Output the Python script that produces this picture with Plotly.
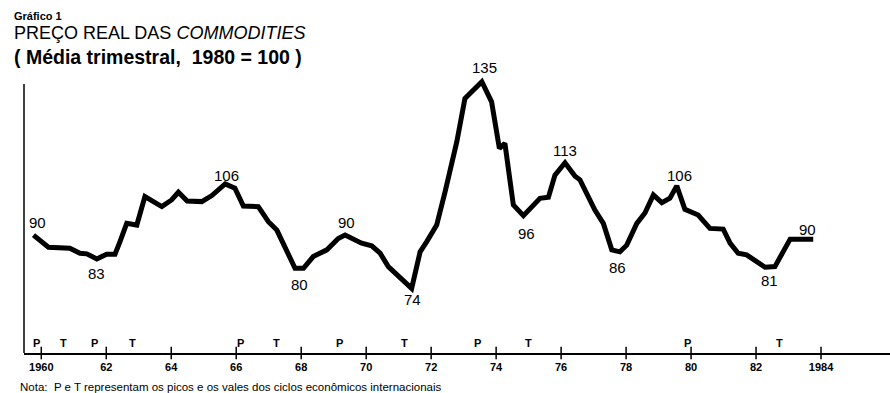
import plotly.graph_objects as go

# ---- data ----
years = [1959.76, 1959.96, 1960.22, 1960.88, 1961.19, 1961.40, 1961.71, 1962.01, 1962.27, 1962.42,
         1962.63, 1962.94, 1963.19, 1963.71, 1964.01, 1964.22, 1964.49, 1964.94, 1965.25, 1965.66,
         1965.96, 1966.22, 1966.68, 1966.99, 1967.25, 1967.81, 1968.07, 1968.37, 1968.79, 1969.14,
         1969.35, 1969.86, 1970.17, 1970.43, 1970.68, 1971.40, 1971.66, 1971.86, 1972.17, 1972.43,
         1972.79, 1973.04, 1973.56, 1973.86, 1974.10, 1974.27, 1974.53, 1974.84, 1975.35, 1975.61,
         1975.81, 1976.12, 1976.43, 1976.58, 1977.04, 1977.30, 1977.56, 1977.81, 1978.02, 1978.33,
         1978.58, 1978.84, 1979.10, 1979.35, 1979.56, 1979.81, 1980.22, 1980.58, 1980.99, 1981.20,
         1981.45, 1981.71, 1982.28, 1982.58, 1983.05, 1983.76]
prices = [90.4, 88.9, 86.8, 86.5, 85.0, 84.8, 83.3, 84.7, 84.7, 88.4,
          93.9, 93.4, 101.9, 98.9, 100.9, 103.2, 100.6, 100.4, 102.2, 105.7,
          104.4, 99.1, 98.9, 94.4, 91.9, 80.5, 80.5, 84.0, 86.0, 89.4,
          90.4, 88.0, 87.2, 85.0, 81.0, 74.5, 85.4, 88.4, 93.4, 103.4,
          118.3, 131.2, 136.2, 130.2, 116.3, 117.8, 99.4, 96.2, 101.4, 101.7,
          108.3, 112.0, 108.0, 106.9, 97.9, 93.9, 86.0, 85.4, 87.4, 93.9,
          97.0, 102.4, 100.1, 101.4, 105.1, 98.1, 96.4, 92.4, 92.2, 88.0,
          85.0, 84.5, 80.8, 81.0, 89.2, 89.2]

# labelled peaks/troughs: index into series and printed value
label_index = [0, 6, 19, 25, 30, 35, 42, 47, 51, 57, 64, 73, 75]
label_text = ["90", "83", "106", "80", "90", "74", "135", "96", "113", "86", "106", "81", "90"]

# business-cycle peaks (P) and troughs (T)
cycle_years = [1959.84, 1960.67, 1961.65, 1962.82, 1966.12, 1967.23, 1969.19, 1971.19,
               1973.44, 1975.01, 1979.90, 1982.73]
cycle_marks = ["P", "T", "P", "T", "P", "T", "P", "T", "P", "T", "P", "T"]

tick_years = [1960, 1962, 1964, 1966, 1968, 1970, 1972, 1974, 1976, 1978, 1980, 1982, 1984]
tick_text = ["1960", "62", "64", "66", "68", "70", "72", "74", "76", "78", "80", "82", "1984"]

# ---- styling ----
FONT = "Liberation Sans"
X_RANGE = [1959.468, 1986.123]
Y_RANGE = [55.2, 139.7]
Y_AXIS_TOP = 135.5
label_shift = [(4, -13), (0, 15), (1, -8), (4, 16), (1, -13), (1, 11), (3, -14),
               (3, 18), (0, -12), (-2, 16), (3, -10), (-5, 14), (-6, -10)]

fig = go.Figure()

fig.add_trace(go.Scatter(
    x=years, y=prices, mode="lines",
    line=dict(color="black", width=5),
    hoverinfo="skip", showlegend=False,
))

# cross-shaped ticks on the time axis
fig.add_trace(go.Scatter(
    x=tick_years, y=[Y_RANGE[0]] * len(tick_years), mode="markers",
    marker=dict(symbol="line-ns", size=9, line=dict(color="black", width=1.5)),
    cliponaxis=False, hoverinfo="skip", showlegend=False,
))

annotations = []
for idx, txt, (dx, dy) in zip(label_index, label_text, label_shift):
    annotations.append(dict(
        x=years[idx], y=prices[idx], xref="x", yref="y", text=txt,
        showarrow=False, xanchor="center", yanchor="middle",
        xshift=dx, yshift=-dy,
        font=dict(family=FONT, size=15, color="black"),
    ))

for yr, m in zip(cycle_years, cycle_marks):
    annotations.append(dict(
        x=yr, y=0.034, xref="x", yref="paper", text="<b>%s</b>" % m,
        showarrow=False, xanchor="center", yanchor="middle",
        font=dict(family=FONT, size=11, color="black"),
    ))

annotations += [
    dict(x=-0.0139, y=1.1908, xref="paper", yref="paper", text="<b>Gráfico 1</b>",
         showarrow=False, xanchor="left", yanchor="middle",
         font=dict(family=FONT, size=11, color="black")),
    dict(x=-0.0139, y=1.1307, xref="paper", yref="paper",
         text="PREÇO REAL DAS <i>COMMODITIES</i>",
         showarrow=False, xanchor="left", yanchor="middle",
         font=dict(family=FONT, size=18, color="black")),
    dict(x=-0.0139, y=1.0459, xref="paper", yref="paper",
         text="<b>( Média trimestral,  1980 = 100 )</b>",
         showarrow=False, xanchor="left", yanchor="middle",
         font=dict(family=FONT, size=19.5, color="black")),
    dict(x=-0.0069, y=-0.1201, xref="paper", yref="paper",
         text="Nota:  P e T representam os picos e os vales dos ciclos econômicos internacionais",
         showarrow=False, xanchor="left", yanchor="middle",
         font=dict(family=FONT, size=11.5, color="black")),
]

fig.update_layout(
    width=890, height=393,
    margin=dict(l=24, r=0, t=70, b=40),
    paper_bgcolor="white", plot_bgcolor="white",
    showlegend=False,
    annotations=annotations,
    shapes=[dict(type="line", xref="paper", yref="y", x0=0, x1=0,
                 y0=Y_RANGE[0], y1=Y_AXIS_TOP, line=dict(color="black", width=1.5))],
    xaxis=dict(
        range=X_RANGE, tickvals=tick_years, ticktext=tick_text,
        showline=True, linecolor="black", linewidth=1.5,
        ticks="", ticklabelstandoff=3, showgrid=False, zeroline=False,
        tickfont=dict(family=FONT, size=11, color="black", weight="bold"),
    ),
    yaxis=dict(range=Y_RANGE, visible=False, showgrid=False, zeroline=False),
    font=dict(family=FONT, color="black"),
)

fig.write_html(
    "out.html",
    config={"displayModeBar": False, "staticPlot": True},
    post_script="document.body.style.margin='0';document.body.style.overflow='hidden';",
)
